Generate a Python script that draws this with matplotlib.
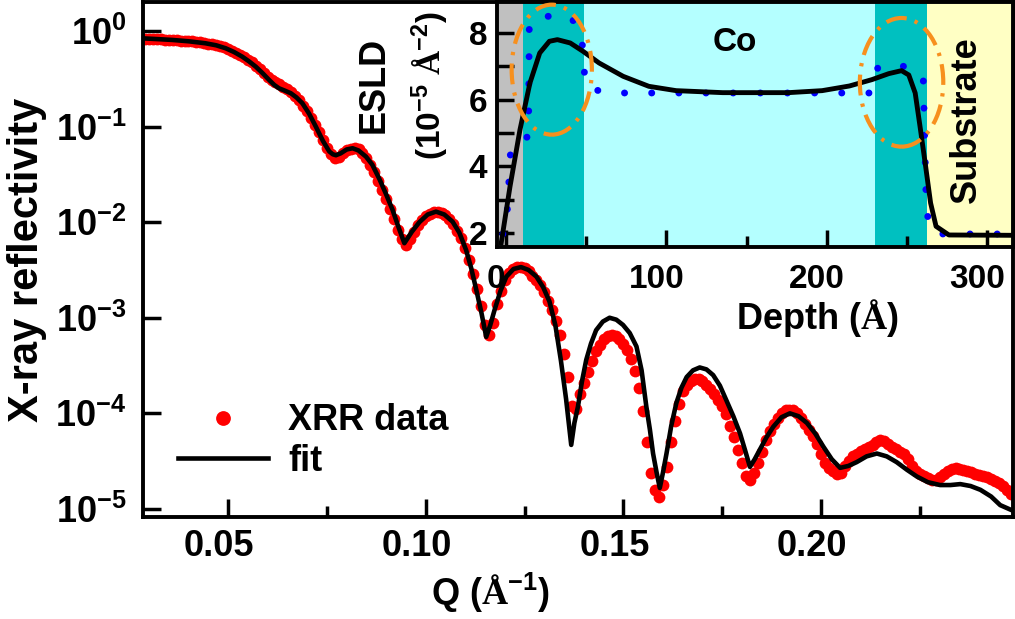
"""XRR curve with fit, plus ESLD depth profile inset."""

import matplotlib
matplotlib.use("Agg")
import matplotlib.pyplot as plt
import matplotlib.transforms as mtransforms
from matplotlib.patches import Ellipse
import numpy as np

plt.rcParams["font.family"] = ["Liberation Sans", "DejaVu Sans"]
plt.rcParams["font.weight"] = "bold"
plt.rcParams["axes.labelweight"] = "bold"
plt.rcParams["mathtext.fontset"] = "custom"
plt.rcParams["mathtext.bf"] = "Liberation Sans:bold"
plt.rcParams["mathtext.rm"] = "Liberation Serif:bold"
plt.rcParams["mathtext.it"] = "Liberation Sans:bold"
plt.rcParams["mathtext.default"] = "bf"

# -----------------------------------------------------------------
# Main panel: reflectivity data (log10 R) and fit
# -----------------------------------------------------------------
q_data = [
    0.029, 0.030, 0.031, 0.032, 0.033, 0.034, 0.035, 0.036, 0.037, 0.038,
    0.039, 0.040, 0.041, 0.042, 0.043, 0.044, 0.045, 0.046, 0.047, 0.048,
    0.049, 0.050, 0.051, 0.052, 0.053, 0.054, 0.055, 0.056, 0.057, 0.058,
    0.059, 0.060, 0.061, 0.062, 0.063, 0.064, 0.065, 0.066, 0.067, 0.068,
    0.069, 0.070, 0.071, 0.072, 0.073, 0.074, 0.075, 0.076, 0.077, 0.078,
    0.079, 0.080, 0.081, 0.082, 0.083, 0.084, 0.085, 0.086, 0.087, 0.088,
    0.089, 0.090, 0.091, 0.092, 0.093, 0.094, 0.095, 0.096, 0.097, 0.098,
    0.099, 0.100, 0.101, 0.102, 0.103, 0.104, 0.105, 0.106, 0.107, 0.108,
    0.109, 0.110, 0.111, 0.112, 0.113, 0.114, 0.115, 0.116, 0.117, 0.118,
    0.119, 0.120, 0.121, 0.122, 0.123, 0.124, 0.125, 0.126, 0.127, 0.128,
    0.129, 0.130, 0.131, 0.132, 0.133, 0.134, 0.135, 0.136, 0.137, 0.138,
    0.139, 0.140, 0.141, 0.142, 0.143, 0.144, 0.145, 0.146, 0.147, 0.148,
    0.149, 0.150, 0.151, 0.152, 0.153, 0.154, 0.155, 0.156, 0.157, 0.158,
    0.159, 0.160, 0.161, 0.162, 0.163, 0.164, 0.165, 0.166, 0.167, 0.168,
    0.169, 0.170, 0.171, 0.172, 0.173, 0.174, 0.175, 0.176, 0.177, 0.178,
    0.179, 0.180, 0.181, 0.182, 0.183, 0.184, 0.185, 0.186, 0.187, 0.188,
    0.189, 0.190, 0.191, 0.192, 0.193, 0.194, 0.195, 0.196, 0.197, 0.198,
    0.199, 0.200, 0.201, 0.202, 0.203, 0.204, 0.205, 0.206, 0.207, 0.208,
    0.209, 0.210, 0.211, 0.212, 0.213, 0.214, 0.215, 0.216, 0.217, 0.218,
    0.219, 0.220, 0.221, 0.222, 0.223, 0.224, 0.225, 0.226, 0.227, 0.228,
    0.229, 0.230, 0.231, 0.232, 0.233, 0.234, 0.235, 0.236, 0.237, 0.238,
    0.239, 0.240, 0.241, 0.242, 0.243, 0.244, 0.245, 0.246, 0.247, 0.248,
]
logr_data = [
    -0.080, -0.082, -0.085, -0.086, -0.088, -0.090, -0.092, -0.094, -0.097, -0.100,
    -0.103, -0.105, -0.108, -0.112, -0.118, -0.124, -0.132, -0.140, -0.150, -0.160,
    -0.172, -0.187, -0.205, -0.226, -0.250, -0.274, -0.300, -0.330, -0.365, -0.402,
    -0.440, -0.478, -0.510, -0.538, -0.560, -0.585, -0.610, -0.642, -0.680, -0.725,
    -0.780, -0.842, -0.910, -0.985, -1.06, -1.14, -1.22, -1.29, -1.33, -1.32,
    -1.28, -1.25, -1.23, -1.22, -1.24, -1.28, -1.33, -1.40, -1.48, -1.57,
    -1.66, -1.76, -1.86, -1.97, -2.08, -2.18, -2.24, -2.18, -2.10, -2.03,
    -1.98, -1.94, -1.91, -1.89, -1.89, -1.90, -1.93, -1.97, -2.02, -2.09,
    -2.17, -2.27, -2.40, -2.54, -2.70, -2.88, -3.08, -3.18, -3.05, -2.86,
    -2.72, -2.61, -2.53, -2.49, -2.47, -2.47, -2.48, -2.51, -2.56, -2.60,
    -2.66, -2.73, -2.82, -2.92, -3.03, -3.18, -3.38, -3.62, -3.92, -3.95,
    -3.80, -3.68, -3.57, -3.45, -3.35, -3.28, -3.22, -3.19, -3.18, -3.19,
    -3.22, -3.27, -3.34, -3.43, -3.56, -3.74, -3.98, -4.30, -4.62, -4.80,
    -4.87, -4.75, -4.56, -4.30, -4.08, -3.90, -3.77, -3.70, -3.66, -3.64,
    -3.64, -3.66, -3.70, -3.75, -3.80, -3.86, -3.92, -4.01, -4.13, -4.25,
    -4.38, -4.52, -4.66, -4.70, -4.62, -4.52, -4.40, -4.28, -4.18, -4.11,
    -4.05, -4.00, -3.97, -3.96, -3.97, -4.00, -4.05, -4.11, -4.17, -4.24,
    -4.32, -4.42, -4.52, -4.57, -4.60, -4.63, -4.62, -4.55, -4.50, -4.45,
    -4.42, -4.39, -4.37, -4.35, -4.33, -4.30, -4.28, -4.29, -4.32, -4.35,
    -4.37, -4.40, -4.43, -4.48, -4.55, -4.60, -4.63, -4.66, -4.68, -4.70,
    -4.70, -4.67, -4.63, -4.60, -4.58, -4.57, -4.58, -4.59, -4.60, -4.61,
    -4.63, -4.64, -4.66, -4.67, -4.69, -4.71, -4.73, -4.76, -4.80, -4.84,
]

q_fit = [
    0.0283, 0.0320, 0.0359, 0.0400, 0.0443, 0.0470, 0.0494, 0.0515, 0.0536, 0.0553,
    0.0570, 0.0587, 0.0604, 0.0617, 0.0629, 0.0644, 0.0659, 0.0673, 0.0688, 0.0705,
    0.0722, 0.0740, 0.0756, 0.0765, 0.0773, 0.0785, 0.0800, 0.0815, 0.0830, 0.0849,
    0.0865, 0.0883, 0.0900, 0.0916, 0.0931, 0.0946, 0.0965, 0.0984, 0.1005, 0.1026,
    0.1047, 0.1068, 0.1085, 0.1102, 0.1115, 0.1128, 0.1141, 0.1153, 0.1163, 0.1174,
    0.1189, 0.1204, 0.1222, 0.1241, 0.1260, 0.1280, 0.1297, 0.1313, 0.1328, 0.1342,
    0.1355, 0.1368, 0.1376, 0.1385, 0.1395, 0.1406, 0.1418, 0.1431, 0.1448, 0.1465,
    0.1482, 0.1499, 0.1516, 0.1533, 0.1546, 0.1558, 0.1567, 0.1575, 0.1584, 0.1592,
    0.1600, 0.1609, 0.1621, 0.1634, 0.1647, 0.1660, 0.1676, 0.1693, 0.1710, 0.1727,
    0.1744, 0.1760, 0.1778, 0.1795, 0.1808, 0.1820, 0.1832, 0.1845, 0.1862, 0.1879,
    0.1900, 0.1921, 0.1943, 0.1964, 0.1985, 0.2006, 0.2027, 0.2048, 0.2069, 0.2090,
    0.2115, 0.2141, 0.2166, 0.2191, 0.2217, 0.2242, 0.2270, 0.2301, 0.2327, 0.2352,
    0.2378, 0.2403, 0.2430, 0.2453, 0.2486,
]
logr_fit = [
    -0.077, -0.085, -0.094, -0.108, -0.129, -0.150, -0.181, -0.220, -0.269, -0.318,
    -0.373, -0.440, -0.513, -0.565, -0.600, -0.625, -0.652, -0.695, -0.756, -0.865,
    -1.00, -1.15, -1.26, -1.29, -1.30, -1.28, -1.24, -1.227, -1.25, -1.315,
    -1.40, -1.55, -1.71, -1.87, -2.05, -2.22, -2.10, -2.00, -1.92, -1.89,
    -1.92, -1.995, -2.11, -2.29, -2.48, -2.71, -2.95, -3.20, -3.08, -2.92,
    -2.72, -2.57, -2.49, -2.47, -2.50, -2.57, -2.68, -2.83, -3.08, -3.45,
    -3.85, -4.33, -4.10, -3.93, -3.67, -3.44, -3.27, -3.13, -3.04, -3.00,
    -3.02, -3.075, -3.16, -3.30, -3.55, -3.93, -4.17, -4.42, -4.62, -4.78,
    -4.62, -4.42, -4.13, -3.89, -3.73, -3.62, -3.55, -3.52, -3.54, -3.60,
    -3.71, -3.86, -4.03, -4.21, -4.39, -4.56, -4.48, -4.38, -4.25, -4.14,
    -4.04, -4.00, -4.03, -4.10, -4.21, -4.35, -4.48, -4.57, -4.55, -4.51,
    -4.45, -4.42, -4.45, -4.51, -4.59, -4.66, -4.72, -4.75, -4.75, -4.74,
    -4.76, -4.80, -4.87, -4.96, -5.02,
]

x_major = [0.05, 0.10, 0.15, 0.20]
x_minor = [0.075, 0.125, 0.175, 0.225]
y_major = [1e0, 1e-1, 1e-2, 1e-3, 1e-4, 1e-5]
y_labels = [r"$10^{0}$", r"$10^{-1}$", r"$10^{-2}$", r"$10^{-3}$",
            r"$10^{-4}$", r"$10^{-5}$"]

# -----------------------------------------------------------------
# Inset: ESLD depth profile
# -----------------------------------------------------------------
depth_fit = [-3, 2.5, 8.7, 14.9, 21, 27, 32, 40, 48, 58, 73, 89, 106, 135, 176,
             197, 214, 228, 238.5, 246.5, 251, 255, 258, 261.5, 264.6, 268, 276, 316]
esld_fit = [1.7, 3.4, 5.1, 6.5, 7.4, 7.75, 7.8, 7.7, 7.45, 7.1, 6.7, 6.4, 6.27, 6.21,
            6.21, 6.27, 6.41, 6.6, 6.78, 6.87, 6.74, 6.2, 5.2, 4.0, 2.9, 2.2, 1.94, 1.93]

depth_model = [-2, 0, 3, 14, 14.5, 22, 40, 47, 49.5, 62, 227, 232, 249, 260, 262, 267, 316]
esld_model = [1.97, 2.0, 4.6, 4.9, 8.3, 8.5, 8.5, 8.0, 6.4, 6.2, 6.2, 7.0, 7.0, 6.7,
              2.6, 1.97, 1.97]

# layer boundaries (depth, A) and colours
layer_edges = [-5.6, 10.6, 48.6, 229.9, 262.3, 316]
layer_colors = ["#c0c0c0", "#00c0c0", "#b4ffff", "#00c0c0", "#ffffc4"]

# interface regions highlighted with ellipses: (centre depth, centre esld, w, h)
ellipses = [(28.5, 6.9, 50, 3.9), (246.5, 6.52, 52, 3.86)]

FS = 26

fig = plt.figure(figsize=(10.15, 6.19), dpi=100)
ax = fig.add_axes([0.1409, 0.1648, 0.857, 0.832])

ax.plot(q_data, 10 ** np.array(logr_data), "o", color="#ff0000", ms=8.5,
        mew=0, label="XRR data", zorder=2)
ax.plot(q_fit, 10 ** np.array(logr_fit), "-", color="black", lw=3.3,
        label="fit", zorder=3)

ax.set_yscale("log")
ax.set_xlim(0.0285, 0.2485)
ax.set_ylim(10 ** -5.084, 10 ** 0.303)
ax.set_xticks(x_major)
ax.set_xticklabels([f"{v:.2f}" for v in x_major])
ax.set_xticks(x_minor, minor=True)
ax.set_yticks(y_major)
ax.set_yticklabels(y_labels)
ax.yaxis.set_minor_locator(matplotlib.ticker.NullLocator())

ax.tick_params(which="both", direction="in", width=2.5, labelsize=FS)
ax.tick_params(axis="x", which="major", length=13, pad=9)
ax.tick_params(axis="x", which="minor", length=8)
ax.tick_params(axis="y", which="major", length=13, pad=12)
for sp in ax.spines.values():
    sp.set_linewidth(2.8)

ax.set_xlabel(r"Q ($\mathrm{Å}^{-1}$)", fontsize=FS)
ax.xaxis.set_label_coords(0.399, -0.105)
ax.set_ylabel("X-ray reflectivity", fontsize=30, labelpad=6)

leg = ax.legend(loc="upper left", bbox_to_anchor=(0.003, 0.284), frameon=False,
                fontsize=FS, handlelength=2.5, handletextpad=0.55,
                labelspacing=0.15, markerscale=1.25)

# -----------------------------------------------------------------
# Inset
# -----------------------------------------------------------------
axi = fig.add_axes([0.4897, 0.601, 0.5084, 0.3958])
for i, c in enumerate(layer_colors):
    axi.axvspan(layer_edges[i], layer_edges[i + 1], color=c, lw=0, zorder=0)

axi.plot(depth_model, esld_model, color="#0000ff", lw=5,
         linestyle=(0, (0.01, 3.9)), dash_capstyle="round", zorder=2)
axi.plot(depth_fit, esld_fit, color="black", lw=3.5, zorder=3)
for cx, cy, w, h in ellipses:
    axi.add_patch(Ellipse((cx, cy), w, h, fill=False, edgecolor="#f7901e",
                          lw=3, linestyle=(0, (5, 2, 0.8, 2)), zorder=4))

axi.text(142.7, 7.7, "Co", fontsize=24, ha="center", va="center", zorder=5)
axi.text(287, 5.39, "Substrate", fontsize=26, ha="center", va="center",
         rotation=90, zorder=5)

axi.set_xlim(-5.6, 316)
axi.set_ylim(1.58, 8.93)
axi.set_xticks([0, 100, 200, 300])
axi.set_xticks([50, 150, 250], minor=True)
axi.set_yticks([2, 4, 6, 8])
axi.set_yticks([3, 5, 7], minor=True)
axi.tick_params(which="both", direction="in", width=2.5, labelsize=24)
axi.tick_params(axis="x", which="major", length=12, pad=12)
axi.tick_params(axis="x", which="minor", length=8)
axi.tick_params(axis="y", which="both", length=12, pad=7)
for sp in axi.spines.values():
    sp.set_linewidth(2.8)

axi.set_xlabel(r"Depth ($\mathrm{Å}$)", fontsize=26)
axi.xaxis.set_label_coords(0.62, -0.205)
axi.text(-0.238, 0.66, "ESLD", transform=axi.transAxes, fontsize=26,
         rotation=90, ha="center", va="center")
axi.text(-0.13, 0.66, r"(10$^{-5}$ $\mathrm{Å}^{-2}$)", transform=axi.transAxes,
         fontsize=24, rotation=90, ha="center", va="center")

# tick labels sit a little left of their ticks in the original
shift = mtransforms.ScaledTranslation(-0.09, 0, fig.dpi_scale_trans)
for lab in ax.get_xticklabels():
    lab.set_transform(lab.get_transform() + shift)
shift_i = mtransforms.ScaledTranslation(-0.10, 0, fig.dpi_scale_trans)
for lab in axi.get_xticklabels():
    lab.set_transform(lab.get_transform() + shift_i)

fig.savefig("out.png", dpi=100)
